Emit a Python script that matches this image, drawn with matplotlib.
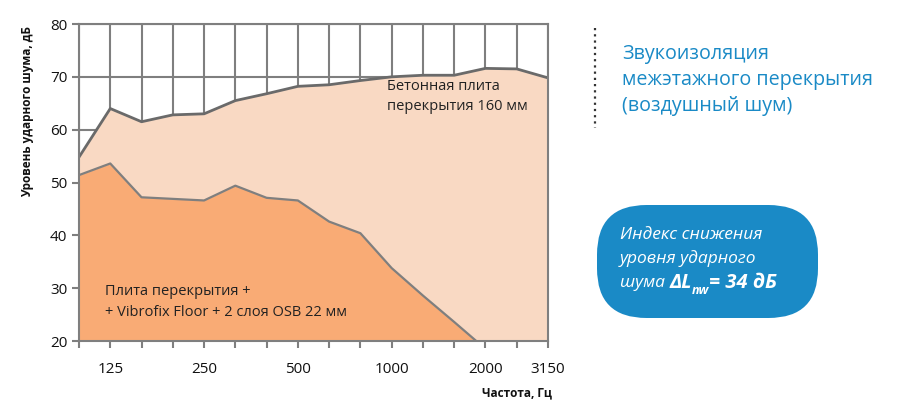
import matplotlib
matplotlib.use('Agg')
import matplotlib.pyplot as plt
from matplotlib.patches import FancyBboxPatch
from matplotlib.lines import Line2D

plt.rcParams['font.family'] = ['Open Sans', 'DejaVu Sans']

freqs     = ['100', '125', '160', '200', '250', '315', '400', '500',
             '630', '800', '1000', '1250', '1600', '2000', '2500', '3150']
shown     = ['125', '250', '500', '1000', '2000', '3150']
concrete  = [54.8, 64.0, 61.5, 62.8, 63.0, 65.5, 66.8, 68.2,
             68.5, 69.3, 70.0, 70.3, 70.3, 71.6, 71.5, 69.8]
vibrofix  = [51.4, 53.6, 47.2, 46.9, 46.6, 49.4, 47.1, 46.6,
             42.6, 40.4, 33.8, 28.6, 23.6, 18.5, 18.0, 18.0]

grey   = '#7f7f7f'
peach  = '#f9d9c3'
orange = '#f9ab75'
blue   = '#1a8ac6'

fig = plt.figure(figsize=(9, 4.15), dpi=100)
ax = fig.add_axes([79 / 900, 1 - 341 / 415, (548 - 79) / 900, (341 - 24) / 415])

x = list(range(len(freqs)))
ax.fill_between(x, 0, concrete, color=peach, zorder=2, linewidth=0)
ax.plot(x, concrete, color='#6a6a6a', linewidth=2.0, zorder=4)
ax.fill_between(x, 0, vibrofix, color=orange, zorder=3, linewidth=0)
ax.plot(x, vibrofix, color=grey, linewidth=1.6, zorder=4)

ax.set_xlim(0, len(freqs) - 1)
ax.set_ylim(20, 80)
ax.set_yticks(range(20, 81, 10))
ax.set_xticks(x)
ax.set_xticklabels([f if f in shown else '' for f in freqs])
ax.grid(True, color=grey, linewidth=1.5, zorder=1)
ax.set_axisbelow(True)
for s in ax.spines.values():
    s.set_color(grey)
    s.set_linewidth(1.5)
    s.set_zorder(5)
ax.tick_params(axis='both', colors=grey, length=5, width=1.5, labelsize=11,
               labelcolor='#111111')
ax.tick_params(axis='x', pad=10)

fig.text(28 / 900, 1 - 111 / 415, 'Уровень ударного шума, дБ', rotation=90,
         ha='center', va='center', fontsize=8.5, fontweight='bold', color='#111111')
fig.text(552 / 900, 1 - 393 / 415, 'Частота, Гц', ha='right', va='center',
         fontsize=8.5, fontweight='bold', color='#111111')

ax.text(9.85, 66.3, 'Бетонная плита\nперекрытия 160 мм', ha='left', va='center',
        fontsize=10.5, linespacing=1.5, color='#222222', zorder=6)
ax.text(0.82, 27.4, 'Плита перекрытия +\n+ Vibrofix Floor + 2 слоя OSB 22 мм',
        ha='left', va='center', fontsize=10.5, linespacing=1.5, color='#222222', zorder=6)

# right-hand side: title with dotted bar
fig.add_artist(Line2D([595 / 900, 595 / 900], [1 - 28 / 415, 1 - 128 / 415],
                      color='#333333', linestyle=(0, (1, 1.8)), linewidth=1.6))
fig.text(622 / 900, 1 - 80 / 415,
         'Звукоизоляция\nмежэтажного перекрытия\n(воздушный шум)',
         ha='left', va='center', fontsize=14.2, linespacing=1.4, color=blue)

box = FancyBboxPatch((597 / 900, 1 - 318 / 415), 221 / 900, 113 / 415,
                     boxstyle='round,pad=0,rounding_size=0.055',
                     transform=fig.transFigure, facecolor=blue, edgecolor='none',
                     mutation_aspect=900 / 415)
fig.add_artist(box)

fig.text(620 / 900, 1 - 235 / 415, 'Индекс снижения', ha='left', va='center',
         fontsize=12.5, style='italic', color='white')
fig.text(620 / 900, 1 - 259 / 415, 'уровня ударного', ha='left', va='center',
         fontsize=12.5, style='italic', color='white')

renderer = fig.canvas.get_renderer()
y3 = 1 - 283 / 415
t = fig.text(620 / 900, y3, 'шума ', ha='left', va='center',
             fontsize=12.5, style='italic', color='white')
x_px = t.get_window_extent(renderer).x1
t = fig.text(x_px / 900, y3, 'ΔL', ha='left', va='center', fontsize=14.5,
             style='italic', fontweight='bold', color='white')
x_px = t.get_window_extent(renderer).x1
t = fig.text(x_px / 900, y3 - 8 / 415, 'nw', ha='left', va='center', fontsize=9,
             style='italic', fontweight='bold', color='white')
x_px = t.get_window_extent(renderer).x1
fig.text(x_px / 900, y3, '= 34 дБ', ha='left', va='center', fontsize=14.5,
         style='italic', fontweight='bold', color='white')

fig.savefig('out.png', dpi=100)
